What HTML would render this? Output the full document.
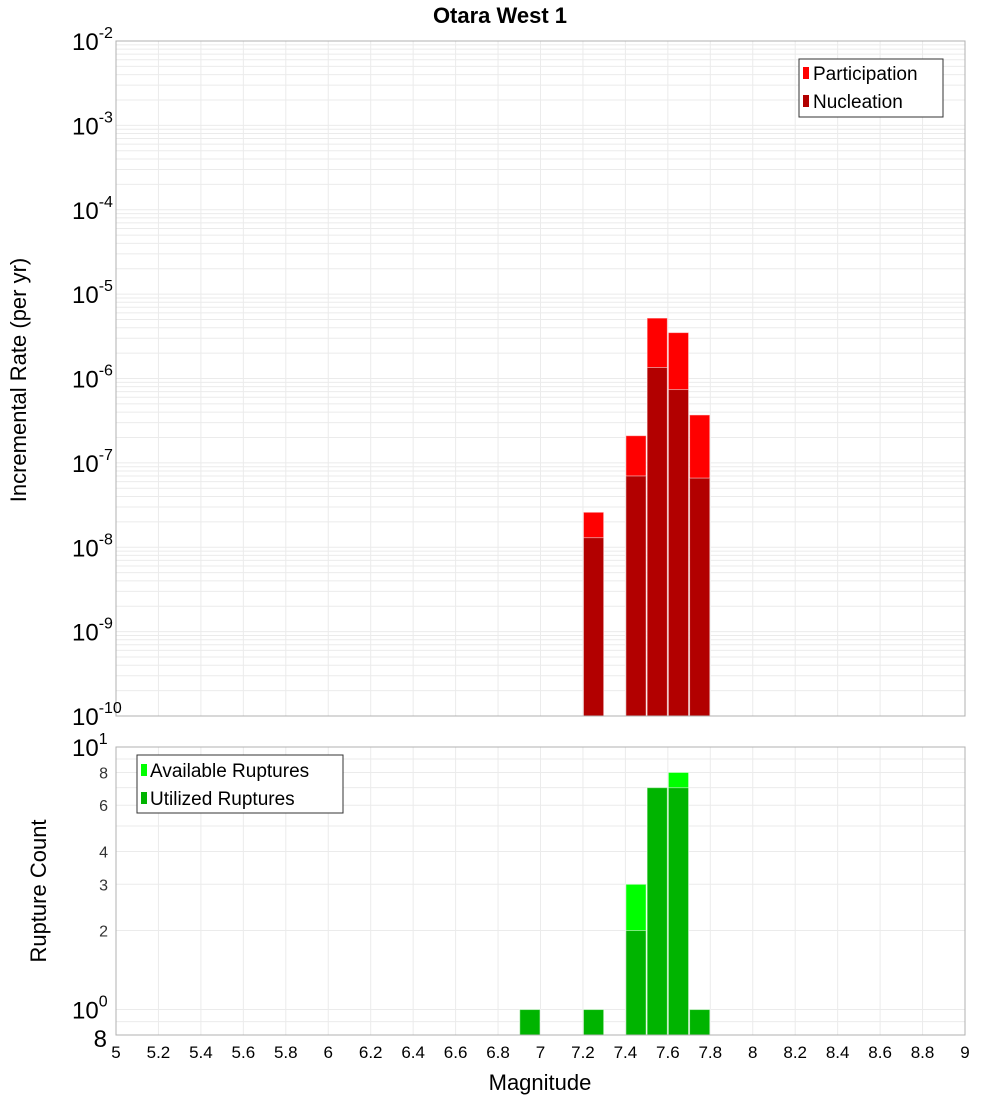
<!DOCTYPE html>
<html><head><meta charset="utf-8"><style>body{margin:0;background:#fff}svg{font-family:"Liberation Sans","DejaVu Sans",sans-serif}</style></head>
<body>
<svg id="c" width="1000" height="1100" xmlns="http://www.w3.org/2000/svg"></svg>
<script>
const binCenters=[7.25,7.45,7.55,7.65,7.75];
const participation=[2.6e-8,2.1e-7,5.2e-6,3.5e-6,3.7e-7];
const nucleation=[1.3e-8,7e-8,1.35e-6,7.4e-7,6.6e-8];
const countCenters=[6.95,7.25,7.45,7.55,7.65,7.75];
const available=[1,1,3,7,8,1];
const utilized=[1,1,2,7,7,1];
const xTicks=[5,5.2,5.4,5.6,5.8,6,6.2,6.4,6.6,6.8,7,7.2,7.4,7.6,7.8,8,8.2,8.4,8.6,8.8,9];
const topExps=[-2,-3,-4,-5,-6,-7,-8,-9,-10];
const botTicks=[2,3,4,6,8];

const svg=document.getElementById('c');const NS='http://www.w3.org/2000/svg';
function mk(t,a,p,txt){const e=document.createElementNS(NS,t);for(const k in a)e.setAttribute(k,a[k]);if(txt!==undefined)e.textContent=txt;(p||svg).appendChild(e);return e;}
const L=116,R=965,T1=41,B1=716,T2=747,B2=1035;
const x=v=>L+(v-5)/4*(R-L);
const y1=v=>T1+(-2-Math.log10(v))/8*(B1-T1);
const lmin=Math.log10(0.8),lmax=1;
const y2=v=>B2-(Math.log10(v)-lmin)/(lmax-lmin)*(B2-T2);

// grids
const g=mk('g',{});
for(const t of xTicks){mk('line',{x1:x(t),x2:x(t),y1:T1,y2:B1,stroke:'#ebebeb'},g);mk('line',{x1:x(t),x2:x(t),y1:T2,y2:B2,stroke:'#ebebeb'},g);}
for(let e=-10;e<-2;e++)for(let m=1;m<10;m++){const yy=y1(m*Math.pow(10,e));mk('line',{x1:L,x2:R,y1:yy,y2:yy,stroke:'#ebebeb'},g);}
for(const v of [0.9,1,2,3,4,5,6,7,8,9,10]){const yy=y2(v);mk('line',{x1:L,x2:R,y1:yy,y2:yy,stroke:'#ebebeb'},g);}

const bw=(R-L)/40;
function bar(c,v,yf,bot,fill,name){const r=mk('rect',{x:x(c)-bw/2+0.5,y:yf(v),width:bw-1,height:bot-yf(v),fill:fill,stroke:'rgba(255,255,255,0.5)','stroke-width':1});}
binCenters.forEach((c,i)=>{bar(c,participation[i],y1,B1,'#ff0000','participation-bar');bar(c,nucleation[i],y1,B1,'#b20000','nucleation-bar');});
countCenters.forEach((c,i)=>{bar(c,available[i],y2,B2,'#00ff00','available-bar');bar(c,utilized[i],y2,B2,'#00b400','utilized-bar');});

mk('rect',{x:L,y:T1,width:R-L,height:B1-T1,fill:'none',stroke:'#b0b0b0'});
mk('rect',{x:L,y:T2,width:R-L,height:B2-T2,fill:'none',stroke:'#b0b0b0'});

// y ticks top
for(const e of topExps){const yy=y1(Math.pow(10,e));const t=mk('text',{x:72,y:yy+9,'font-size':24});
 t.innerHTML='10<tspan dy="-12" font-size="16">'+e+'</tspan>';}
// bottom y ticks
let t=mk('text',{x:72,y:y2(10)+9,'font-size':24});t.innerHTML='10<tspan dy="-12" font-size="16">1</tspan>';
t=mk('text',{x:72,y:y2(1)+9,'font-size':24});t.innerHTML='10<tspan dy="-12" font-size="16">0</tspan>';
mk('text',{x:107,y:B2+12,'font-size':24,'text-anchor':'end'},null,'8');
for(const v of botTicks){mk('text',{x:108,y:y2(v)+6,'font-size':16,'text-anchor':'end',fill:'#333'},null,String(v));}
// x ticks
for(const tk of xTicks){const tt=mk('text',{x:x(tk),y:1058,'font-size':17,'text-anchor':'middle'},null,String(+tk.toFixed(1)));}
mk('text',{x:540,y:1090,'font-size':22,'text-anchor':'middle'},null,'Magnitude');
mk('text',{x:500,y:23,'font-size':22,'font-weight':'bold','text-anchor':'middle'},null,'Otara West 1');
mk('text',{x:0,y:0,'font-size':22,'text-anchor':'middle',transform:'translate(26,380) rotate(-90)'},null,'Incremental Rate (per yr)');
mk('text',{x:0,y:0,'font-size':22,'text-anchor':'middle',transform:'translate(46,891) rotate(-90)'},null,'Rupture Count');

// legends
let lg=mk('g',{});
mk('rect',{x:799,y:59,width:144,height:58,fill:'#fff',stroke:'#333'},lg);
mk('rect',{x:803,y:67,width:6,height:12,fill:'#ff0000'},lg);mk('text',{x:813,y:80,'font-size':19},lg,'Participation');
mk('rect',{x:803,y:95,width:6,height:12,fill:'#b20000'},lg);mk('text',{x:813,y:108,'font-size':19},lg,'Nucleation');
lg=mk('g',{});
mk('rect',{x:137,y:755,width:206,height:58,fill:'#fff',stroke:'#333'},lg);
mk('rect',{x:141,y:764,width:6,height:12,fill:'#00ff00'},lg);mk('text',{x:150,y:777,'font-size':19},lg,'Available Ruptures');
mk('rect',{x:141,y:792,width:6,height:12,fill:'#00b400'},lg);mk('text',{x:150,y:805,'font-size':19},lg,'Utilized Ruptures');
</script>
</body></html>
